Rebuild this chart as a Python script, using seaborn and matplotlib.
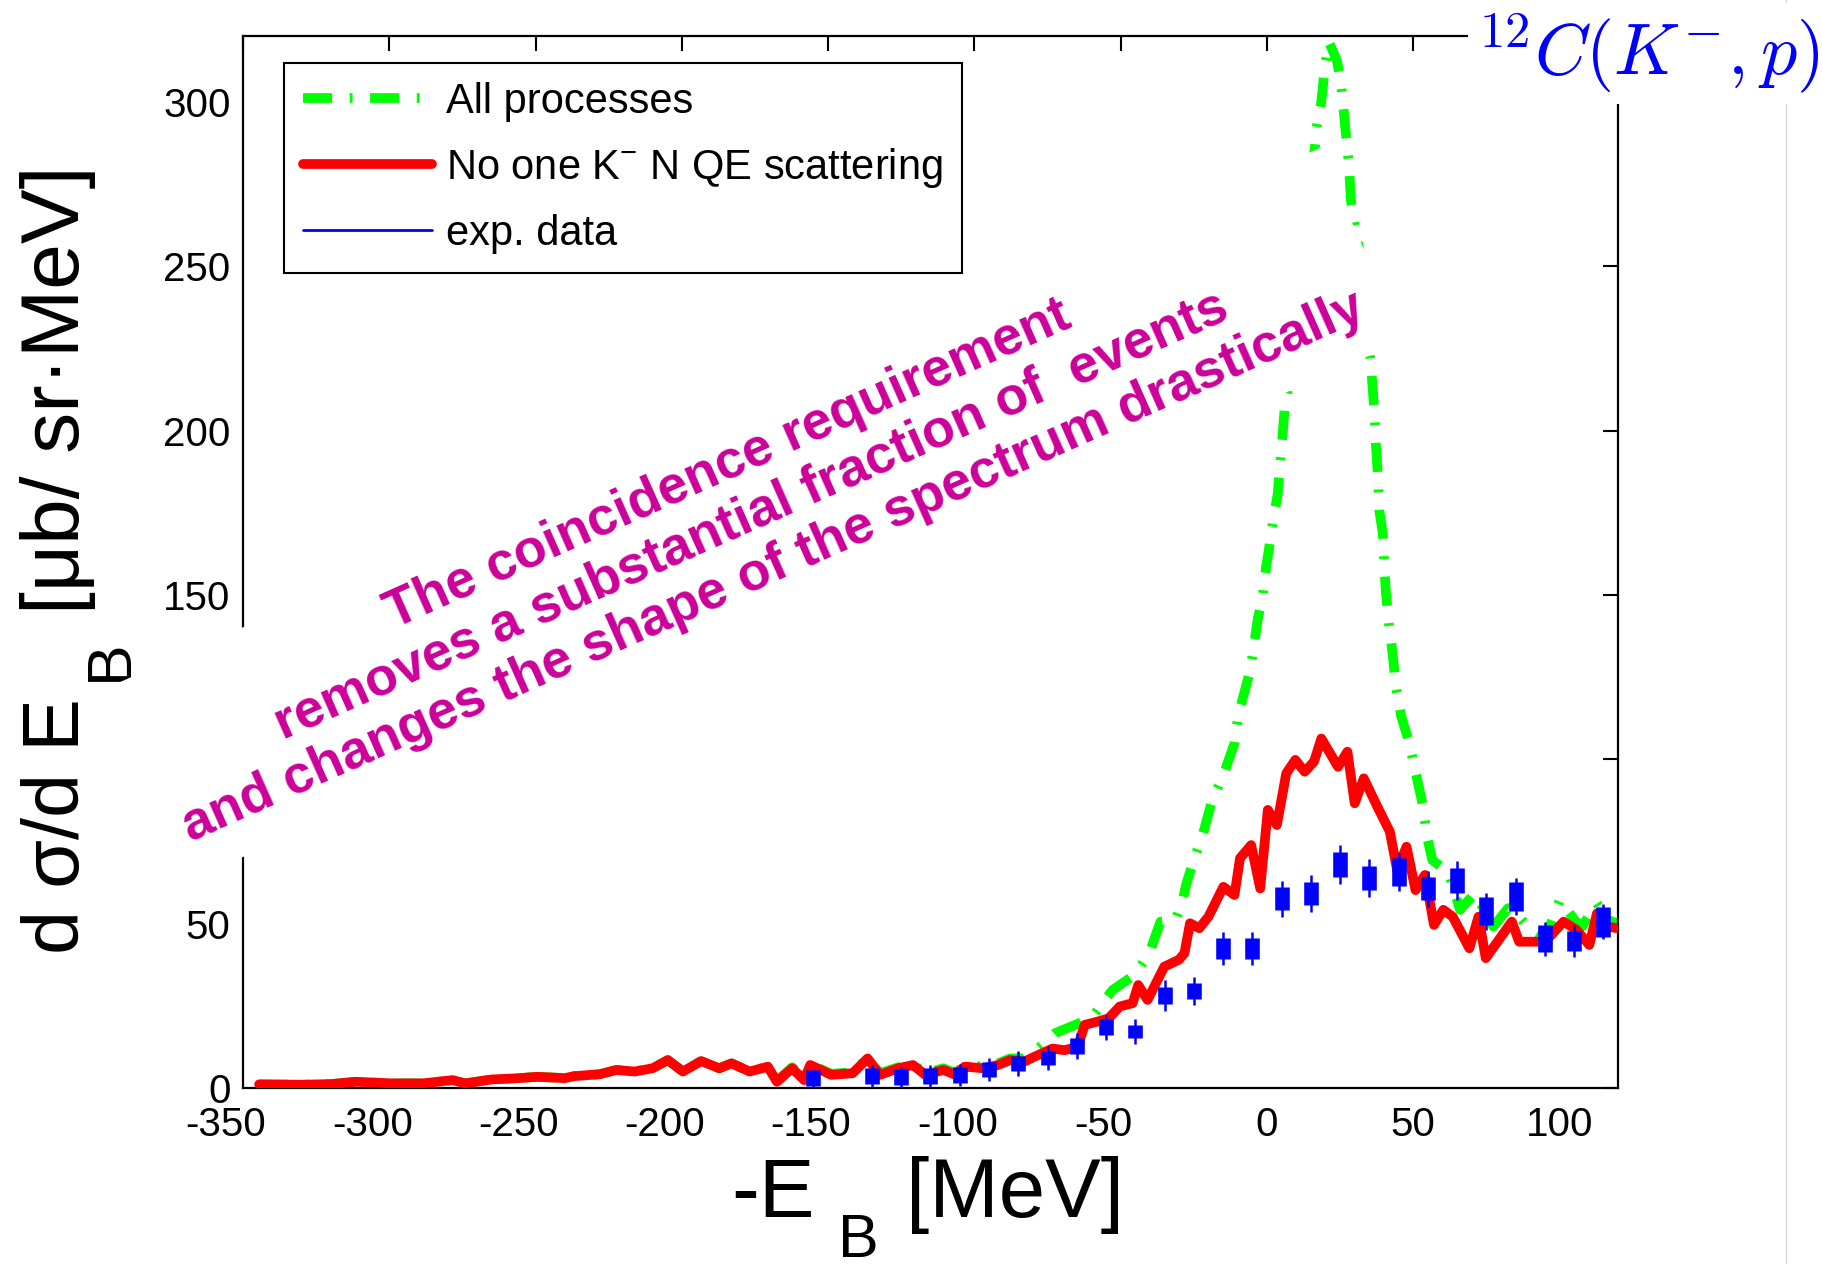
import numpy as np
import pandas as pd
import matplotlib
matplotlib.use("Agg")
import matplotlib.pyplot as plt
from matplotlib.lines import Line2D
from matplotlib.transforms import ScaledTranslation
import seaborn as sns

# ---------------- data ----------------
red_x = [-344.5, -330, -319.7, -311.4, -299, -288.6, -278.3, -274.1, -265, -257.6, -249.3, -240,
         -236.9, -228, -222.4, -216.2, -210, -204.8, -199.6, -193.4, -187.2, -183, -176.8, -170.6,
         -167.5, -162.3, -158.2, -156.1, -148.9, -141.6, -136.5, -132.3, -126, -121, -116.8, -110.6,
         -106.5, -103.3, -97, -91.9, -87.8, -83, -79.5, -73.3, -69.2, -66.5, -64.8, -62.3, -57.9,
         -54.1, -50.3, -45.9, -44.0, -40.8, -35.1, -30.1, -28.2, -26.3, -23.1, -20.0, -14.9, -11.1,
         -9.2, -5.4, -2.3, 0.3, 3.4, 6.6, 9.7, 12.9, 16.1, 18.6, 24.3, 27.5, 30.0, 33.1, 37.5, 42.0,
         44.5, 47.7, 50.8, 54.0, 57.1, 60.3, 63.5, 69.2, 72.3, 74.8, 83.7, 86.2, 95.1, 101.4, 105.8,
         110.2, 112.8, 116.5, 119.7]
red_y = [1.1, 1.0, 1.2, 1.9, 1.4, 1.4, 2.4, 1.4, 2.6, 2.9, 3.4, 3.0,
         3.6, 4.2, 5.5, 5.0, 6.0, 8.5, 5.0, 8.2, 6.0, 7.5, 5.0, 6.5,
         1.9, 6.0, 2.4, 7.0, 4.0, 4.5, 9.0, 4.0, 6.0, 7.0, 4.0, 5.5,
         4.0, 6.5, 6.0, 7.0, 8.5, 8.0, 9.5, 12.0, 11.5, 12.1, 12.1, 19.2, 20.2,
         21.2, 24.8, 25.8, 31.3, 26.8, 36.9, 39.0, 41.0, 50.1, 48.6, 52.1, 61.2, 58.7,
         69.9, 73.9, 60.7, 84.6, 80.0, 95.7, 99.8, 96.2, 99.3, 106.3, 97.7, 102.3, 86.6, 94.2, 86.0, 78.0,
         66.3, 73.4, 60.2, 64.8, 49.6, 54.2, 52.1, 42.5, 52.1, 39.5, 50.6, 44.5, 44.5, 50.6, 48.1,
         43.5, 53.1, 49.1, 48.6]

green_x = [-344.5, -330, -319.7, -311.4, -299, -288.6, -278.3, -274.1, -265, -257.6, -249.3, -240,
           -236.9, -228, -222.4, -216.2, -210, -204.8, -199.6, -193.4, -187.2, -183, -176.8, -170.6,
           -167.5, -162.3, -158.2, -156.1, -148.9, -141.6, -136.5, -132.3, -126, -121, -116.8, -110.6,
           -106.5, -103.3, -97, -91.9, -87.8, -83, -79.5, -72.4, -64.2, -59.1, -52.8, -45.2, -40.2,
           -36.4, -31.3, -28.8, -27.5, -24.4, -21.8, -18.7, -14.9, -11.1, -9.8, -6.0, -4.9, -3.2, -1.4,
           -0.3, 0.8, 1.4, 2.5, 3.7, 4.2, 4.8, 5.4, 6.0, 7.1, 10.0, 13.0, 16.4, 17.1, 18.5, 19.1, 19.8,
           21.2, 23.9, 25.3, 25.9, 27.3, 28.0, 28.7, 30.0, 31.4, 33.5, 35.6, 36.7, 37.3, 37.8, 38.4,
           39.6, 40.1, 40.7, 41.8, 43.0, 44.1, 45.8, 48.7, 50.9, 53.4, 54.6, 56.5, 62.2, 66.0, 71.0,
           77.4, 82.4, 86.2, 90.0, 95.1, 100.1, 105.2, 107.7, 112.8, 116.5, 120.0]
green_y = [1.1, 1.0, 1.2, 1.9, 1.4, 1.4, 2.4, 1.4, 2.6, 2.9, 3.4, 3.0,
           3.6, 4.2, 5.5, 5.0, 6.0, 8.5, 5.0, 8.2, 6.0, 7.5, 5.0, 6.5,
           2.2, 6.3, 2.8, 7.2, 4.3, 4.8, 9.0, 4.5, 6.3, 7.3, 4.5, 6.0,
           4.5, 7.0, 6.5, 7.5, 9.0, 9.0, 11.0, 16.7, 19.7, 22.2, 29.8, 34.4, 41.0,
           50.6, 51.1, 57.2, 62.3, 70.9, 77.5, 87.6, 95.2, 104.8, 113.4, 126.1, 131.7, 142.3, 149.9,
           158.5, 164.6, 168.7, 174.7, 180.8, 186.9, 193.0, 199.1, 206.2, 212.2, 240.0, 265.0, 286.2, 292.8, 299.4, 304.5, 310.5,
           318.1, 312.6, 305.5, 300.4, 287.2, 281.1, 270.0, 262.4, 255.8, 238.0, 219.3, 206.2, 195.0, 187.9, 175.7,
           168.7, 158.5, 150.4, 140.3, 131.7, 122.0, 113.4, 104.8, 95.7, 85.6, 77.0, 69.4, 65.3, 54.2, 59.2,
           49.1, 54.7, 52.1, 48.1, 45.5, 57.2, 51.1, 49.1, 56.2, 51.1, 50.0]

exp_x = [-155, -135, -125, -115, -105, -95, -85, -75, -65, -55, -45, -35, -25, -15, -5,
         5, 15, 25, 35, 45, 55, 65, 75, 85, 95, 105, 115]
exp_y = [3.0, 3.6, 3.3, 3.6, 4.0, 5.6, 7.5, 9.2, 12.7, 18.5, 17.2, 28.1, 29.6, 42.5, 42.5,
         57.6, 59.2, 68.0, 63.9, 65.8, 60.6, 63.1, 53.8, 58.2, 45.4, 44.8, 50.6]
exp_err_in = [2.4, 2.5, 2.5, 2.5, 2.5, 2.2, 2.2, 2.2, 2.5, 2.5, 1.9, 2.6, 2.4, 3.2, 3.2,
              3.4, 3.5, 3.9, 3.6, 4.3, 3.5, 3.7, 4.3, 4.4, 4.1, 3.0, 4.6]
exp_err_out = [2.6, 3.3, 3.2, 3.3, 3.4, 3.5, 3.7, 3.7, 4.0, 3.8, 3.75, 4.6, 4.3, 5.1, 5.1,
               5.5, 5.6, 5.9, 5.8, 5.8, 5.5, 5.8, 5.6, 5.6, 5.2, 4.8, 5.4]

x_ticks = [-350, -300, -250, -200, -150, -100, -50, 0, 50, 100]
y_ticks = [0, 50, 100, 150, 200, 250, 300]
legend_labels = ["All processes", r"No one K$^{-}$ N QE scattering", "exp. data"]
note_lines = ["The coincidence requirement",
              "removes a substantial fraction of  events",
              "and changes the shape of the spectrum drastically"]

# ---------------- style ----------------
sns.set_theme(style="white")
plt.rcParams["font.family"] = ["Liberation Sans", "DejaVu Sans"]
plt.rcParams["mathtext.fontset"] = "custom"
plt.rcParams["mathtext.rm"] = "Liberation Sans"
plt.rcParams["mathtext.it"] = "Liberation Sans:italic"
plt.rcParams["mathtext.bf"] = "Liberation Sans:bold"
plt.rcParams["text.color"] = "black"
plt.rcParams["axes.labelcolor"] = "black"
plt.rcParams["xtick.color"] = "black"
plt.rcParams["ytick.color"] = "black"

W, H = 1824, 1264
fig = plt.figure(figsize=(W / 100, H / 100), dpi=100)
fig.patch.set_facecolor("white")
ax = fig.add_axes([243 / W, 1 - 1088 / H, (1618 - 243) / W, (1088 - 36) / H])
ax.set_facecolor("white")

GREEN = "#00FF00"
RED = "#FF0000"
BLUE = "#0000FF"
dash_green = (0, (3.0, 1.8, 0.3, 1.8))

df_g = pd.DataFrame({"x": green_x, "y": green_y})
df_r = pd.DataFrame({"x": red_x, "y": red_y})
sns.lineplot(data=df_g, x="x", y="y", ax=ax, color=GREEN, lw=7, sort=False,
             estimator=None, zorder=2)
ax.lines[-1].set_linestyle(dash_green)
ax.lines[-1].set_dash_capstyle("butt")
sns.lineplot(data=df_r, x="x", y="y", ax=ax, color=RED, lw=7, sort=False,
             estimator=None, zorder=3)

ax.errorbar(exp_x, exp_y, yerr=exp_err_out, fmt="none", ecolor=BLUE, elinewidth=1.8,
            capsize=0, zorder=4)
ax.errorbar(exp_x, exp_y, yerr=exp_err_in, fmt="none", ecolor=BLUE, elinewidth=10.5,
            capsize=0, zorder=5)

ax.set_xlim(-350, 120)
ax.set_ylim(0, 320)
ax.set_xticks(x_ticks)
ax.set_yticks(y_ticks)
ax.set_xticklabels([str(v) for v in x_ticks])
ax.set_yticklabels([str(v) for v in y_ticks])
ax.tick_params(axis="both", which="both", direction="in", length=11, width=1.5,
               colors="black", labelsize=29, top=True, right=True)
ax.tick_params(axis="x", pad=13)
ax.tick_params(axis="y", pad=9)
for s in ax.spines.values():
    s.set_visible(True)
    s.set_color("black")
    s.set_linewidth(1.6)
ax.set_xlabel("")
ax.set_ylabel("")

# negative x tick labels sit a bit to the left, as in the reference
shift = ScaledTranslation(-0.17, 0, fig.dpi_scale_trans)
for tick, v in zip(ax.xaxis.get_major_ticks(), x_ticks):
    if v < 0:
        tick.label1.set_transform(tick.label1.get_transform() + shift)

# legend
handles = [Line2D([], [], color=GREEN, lw=7, linestyle=dash_green, dash_capstyle="butt"),
           Line2D([], [], color=RED, lw=7),
           Line2D([], [], color=BLUE, lw=2)]
leg = ax.legend(handles, legend_labels, loc="upper left",
                bbox_to_anchor=(284 / W, 1 - 63 / H), bbox_transform=fig.transFigure,
                fontsize=30, frameon=True, fancybox=False, edgecolor="black",
                framealpha=1, handlelength=3.1, handletextpad=0.35, labelspacing=0.58,
                borderpad=0.45, borderaxespad=0)
leg.get_frame().set_linewidth(1.5)

# axis labels composed of pieces
def fx(px):
    return px / W

def fy(py):
    return 1 - py / H

fig.text(fx(731), fy(1217), "-E", fontsize=60, ha="left", va="baseline")
fig.text(fx(838), fy(1257), "B", fontsize=44, ha="left", va="baseline")
fig.text(fx(906), fy(1217), "[MeV]", fontsize=60, ha="left", va="baseline")

fig.text(fx(79), fy(954), "d σ/d E", fontsize=57, ha="left", va="baseline",
         rotation=90, rotation_mode="anchor")
fig.text(fx(127), fy(681), "B", fontsize=45, ha="left", va="baseline",
         rotation=90, rotation_mode="anchor")
fig.text(fx(79), fy(614), "[μb/ sr·MeV]", fontsize=59, ha="left", va="baseline",
         rotation=90, rotation_mode="anchor")

# annotation with white box
fig.text(fx(751), fy(516), "\n".join(note_lines), fontsize=38.5, fontweight="bold",
         color="#CC0099", rotation=24, rotation_mode="anchor", ha="center", va="center",
         multialignment="center", linespacing=1.15, zorder=10,
         bbox=dict(boxstyle="square,pad=0.45", facecolor="white", edgecolor="none"))

# title top right
fig.add_artist(Line2D([1786 / W, 1786 / W], [0, 1], transform=fig.transFigure,
                      color="#d8d8d8", lw=1.0, zorder=1))
fig.text(fx(1820), fy(75), r"$^{12}C(K^{-},p)$", fontsize=52, color=BLUE,
         math_fontfamily="cm", ha="right", va="baseline", zorder=10,
         bbox=dict(boxstyle="square,pad=0.12", facecolor="white", edgecolor="none"))

fig.savefig("out.png", dpi=100, facecolor="white")
